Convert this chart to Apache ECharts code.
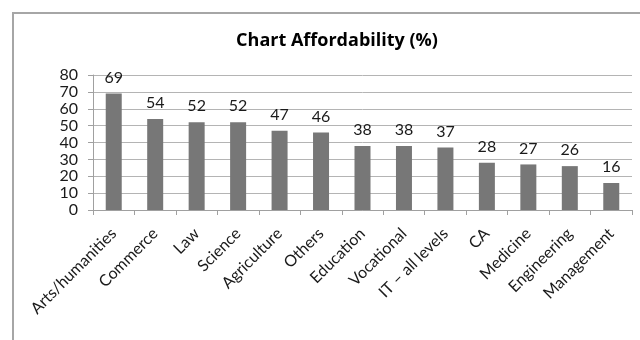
<!DOCTYPE html>
<html>
<head>
<meta charset="utf-8">
<script src="https://cdn.jsdelivr.net/npm/echarts@6/dist/echarts.min.js"></script>
<style>
  html, body { margin: 0; padding: 0; background: #fff; }
  #chart { width: 640px; height: 340px; }
</style>
</head>
<body>
<div id="chart"></div>
<script>
// Share of each field of study rated affordable, in percent
const categories = ['Arts/humanities', 'Commerce', 'Law', 'Science', 'Agriculture', 'Others',
  'Education', 'Vocational', 'IT \u2013 all levels', 'CA', 'Medicine', 'Engineering', 'Management'];
const affordability = [69, 54, 52, 52, 47, 46, 38, 38, 37, 28, 27, 26, 16];
const yTicks = { min: 0, max: 80, step: 10 };
const chartTitle = 'Chart Affordability (%)';

const FONT = 'Lato, "Open Sans", sans-serif';
const chart = echarts.init(document.getElementById('chart'), null, { renderer: 'canvas' });

chart.setOption({
  backgroundColor: '#ffffff',
  animation: false,
  title: {
    text: chartTitle,
    left: 332, top: 27, textAlign: 'center',
    textStyle: { fontFamily: '"Open Sans", Lato, sans-serif', fontSize: 18, fontWeight: 'bold', color: '#000' }
  },
  graphic: [{
    type: 'rect',
    shape: { x: 13, y: 13, width: 700, height: 400 },
    style: { fill: 'none', stroke: '#a6a6a6', lineWidth: 2 },
    silent: true, z: -1
  }],
  grid: { left: 93, right: 8, top: 75, bottom: 130, containLabel: false },
  xAxis: {
    type: 'category',
    data: categories,
    axisLine: { lineStyle: { color: '#a0a0a0', width: 1 } },
    axisTick: { show: true, alignWithLabel: false, length: 5, lineStyle: { color: '#a0a0a0' } },
    axisLabel: {
      interval: 0, rotate: 45, margin: 21,
      fontFamily: FONT, fontSize: 16, color: '#1a1a1a'
    }
  },
  yAxis: {
    type: 'value',
    min: yTicks.min, max: yTicks.max, interval: yTicks.step,
    axisLine: { show: true, lineStyle: { color: '#a0a0a0', width: 1 } },
    axisTick: { show: true, length: 5, lineStyle: { color: '#a0a0a0' } },
    splitLine: { lineStyle: { color: '#b4b4b4', width: 1 } },
    axisLabel: { margin: 15, fontFamily: FONT, fontSize: 16, color: '#1a1a1a' }
  },
  series: [{
    type: 'bar',
    data: affordability,
    barWidth: 16,
    itemStyle: { color: '#777777' },
    label: {
      show: true, position: 'top', distance: 8,
      fontFamily: FONT, fontSize: 16, color: '#1a1a1a'
    }
  }]
});
</script>
</body>
</html>
